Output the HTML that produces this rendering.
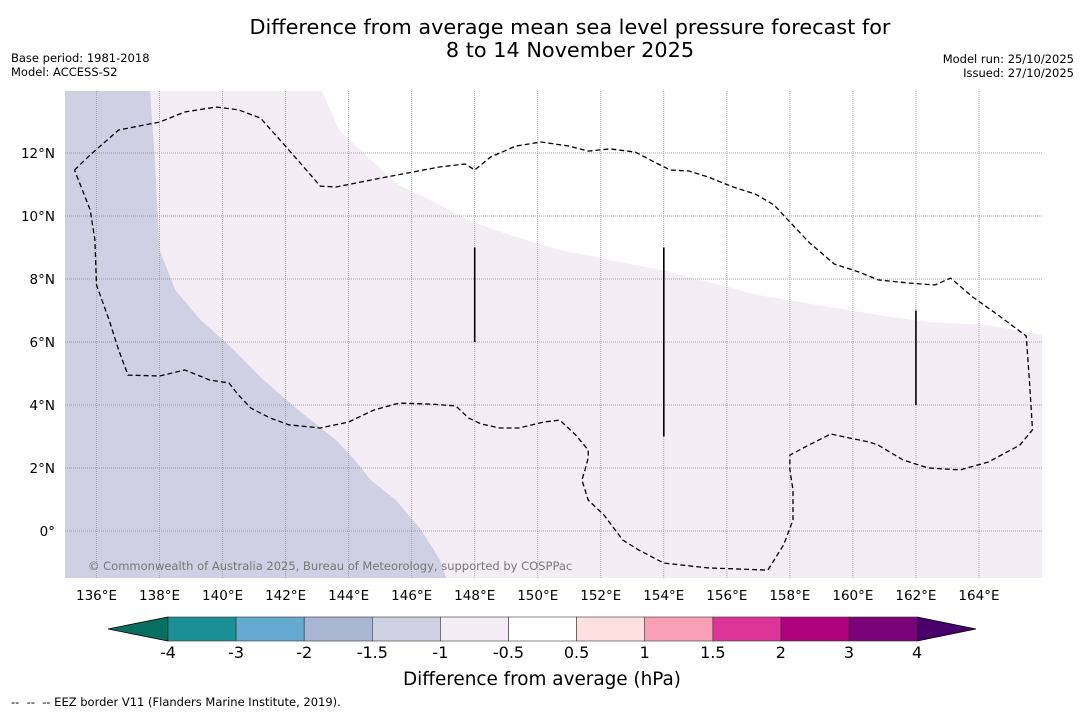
<!DOCTYPE html>
<html><head><meta charset="utf-8">
<style>
body{margin:0;background:#fff;}
svg{display:block;font-family:"DejaVu Sans","Liberation Sans",sans-serif;}
</style></head>
<body>
<svg id="chart" width="1085" height="713" viewBox="0 0 1085 713" xmlns="http://www.w3.org/2000/svg">
<text x="570" y="34" font-size="20.8" text-anchor="middle">Difference from average mean sea level pressure forecast for</text>
<text x="570" y="57" font-size="20.8" text-anchor="middle">8 to 14 November 2025</text>
<text x="11" y="62" font-size="11.5">Base period: 1981-2018</text>
<text x="11" y="76" font-size="11.5">Model: ACCESS-S2</text>
<text x="1074" y="63" font-size="11.5" text-anchor="end">Model run: 25/10/2025</text>
<text x="1074" y="77" font-size="11.5" text-anchor="end">Issued: 27/10/2025</text>
<g id="map"></g>
<g id="cbar"></g>
<text x="542" y="685" font-size="18.4" text-anchor="middle">Difference from average (hPa)</text>
<text x="11" y="706" font-size="11.5" xml:space="preserve">--  --  -- EEZ border V11 (Flanders Marine Institute, 2019).</text>
</svg>
<script>
const lonTicks=[136,138,140,142,144,146,148,150,152,154,156,158,160,162,164];
const latTicks=[0,2,4,6,8,10,12];
const blueLon=[137.7,137.85,138.0,138.5,139.3,140.2,141.3,142.4,143.6,144.2,144.7,145.5,146.3,146.9,147.1];
const blueLat=[13.97,11.78,8.92,7.65,6.7,5.9,4.79,3.84,2.89,2.25,1.62,0.98,0.03,-0.92,-1.5];
const whiteLon=[143.15,143.7,144.7,145.6,146.6,147.8,149.1,150.7,152.3,153.9,155.8,157.0,158.9,160.8,162.4,164.3,166.0];
const whiteLat=[13.97,12.73,11.78,10.98,10.5,9.87,9.4,8.92,8.6,8.29,7.81,7.49,7.17,6.86,6.63,6.54,6.22];
const contLon=[135.3,135.8,136.7,138.0,138.8,139.8,140.5,141.2,142.1,143.1,143.6,145.0,146.9,147.7,148.0,148.5,149.3,150.1,151.0,151.6,152.3,153.1,153.7,154.2,154.8,155.4,156.2,156.9,157.5,158.0,158.6,159.4,160.2,160.8,161.8,162.6,163.1,163.8,164.6,165.5,165.6,165.7,165.3,164.3,163.4,162.4,161.6,160.8,160.5,159.9,159.3,158.6,158.0,158.0,158.1,158.1,157.8,157.3,155.4,154.0,153.2,152.7,152.1,151.6,151.4,151.5,151.6,151.6,151.2,150.7,150.2,149.4,148.8,148.2,147.8,147.4,146.6,145.6,144.8,144.0,143.1,142.1,141.5,140.9,140.5,140.2,139.6,138.8,138.0,137.0,136.7,136.4,136.0,135.95,135.8,135.3];
const contLat=[11.46,11.94,12.73,12.98,13.3,13.46,13.37,13.11,12.1,10.95,10.92,11.2,11.56,11.65,11.46,11.87,12.22,12.35,12.22,12.06,12.13,12.03,11.71,11.46,11.43,11.24,10.92,10.7,10.35,9.81,9.17,8.48,8.22,7.97,7.87,7.81,8.03,7.43,6.86,6.19,4.79,3.21,2.73,2.19,1.94,2.0,2.25,2.73,2.83,2.95,3.08,2.73,2.41,1.94,1.3,0.35,-0.44,-1.24,-1.17,-1.02,-0.6,-0.29,0.51,0.98,1.62,1.94,2.32,2.57,3.05,3.52,3.46,3.27,3.27,3.4,3.59,3.97,4.03,4.06,3.84,3.46,3.27,3.37,3.59,3.9,4.32,4.7,4.79,5.11,4.92,4.95,5.75,6.7,7.81,9.24,10.19,11.46];
const segLon=[148,154,162];
const segLat0=[9,9,7];
const segLat1=[6,3,4];
const cbLevels=[-4,-3,-2,-1.5,-1,-0.5,0.5,1,1.5,2,3,4];
const cbColors=["#1b8f96","#66a9d0","#a9b6d1","#cfd0e4","#f4edf5","#ffffff","#fde0e0","#f99fb5","#dd3497","#ae017e","#7a0177"];

const NS="http://www.w3.org/2000/svg";
const X0=65,X1=1042,Y0=91,Y1=578;
const xs=lon=>X0+(lon-135)*(X1-X0)/31;
const ys=lat=>531-lat*31.5;
function mk(t,a,p){const e=document.createElementNS(NS,t);for(const k in a)e.setAttribute(k,a[k]);p.appendChild(e);return e;}
const map=document.getElementById('map');
const cp=mk('clipPath',{id:'mc'},map);mk('rect',{x:X0,y:Y0,width:X1-X0,height:Y1-Y0},cp);
const g=mk('g',{'clip-path':'url(#mc)'},map);
let bg=mk('rect',{x:X0,y:Y0,width:X1-X0,height:Y1-Y0,fill:'#f4edf5'},g);


let d='M'+X0+','+(Y0-5);
blueLon.forEach((v,i)=>{d+=' L'+xs(v)+','+ys(blueLat[i]);});
d+=' L'+xs(blueLon[blueLon.length-1])+','+(Y1+5)+' L'+X0+','+(Y1+5)+'Z';
let p=mk('path',{d:d,fill:'#cfd0e4'},g);


d='M'+xs(whiteLon[0])+','+(Y0-5);
whiteLon.forEach((v,i)=>{d+=' L'+xs(v)+','+ys(whiteLat[i]);});
d+=' L'+(X1+5)+','+(Y0-5)+'Z';
p=mk('path',{d:d,fill:'#ffffff'},g);


lonTicks.forEach(v=>{
 const l=mk('line',{x1:xs(v),x2:xs(v),y1:Y0,y2:Y1,stroke:'#999','stroke-width':0.8,'stroke-dasharray':'1,1'},g);
 
 
 const t=mk('text',{x:xs(v),y:600,'font-size':13.5,'text-anchor':'middle'},map);
 t.textContent=v+'°E';
 
 
});
latTicks.forEach(v=>{
 const l=mk('line',{x1:X0,x2:X1,y1:ys(v),y2:ys(v),stroke:'#888','stroke-width':0.8,'stroke-dasharray':'1,1'},g);
 
 
 const t=mk('text',{x:55,y:ys(v)+5,'font-size':13.5,'text-anchor':'end'},map);
 t.textContent=v===0?'0°':v+'°N';
 
 
});
d='';contLon.forEach((v,i)=>{d+=(i?' L':'M')+xs(v).toFixed(1)+','+ys(contLat[i]).toFixed(1);});
p=mk('path',{d:d,fill:'none',stroke:'#000','stroke-width':1.3,'stroke-dasharray':'5,3'},g);


segLon.forEach((v,i)=>{
 const l=mk('line',{x1:xs(v),x2:xs(v),y1:ys(segLat0[i]),y2:ys(segLat1[i]),stroke:'#000','stroke-width':1.6},g);
 
 
});
let c=mk('text',{x:88,y:570,'font-size':11.5,fill:'#777'},g);
c.textContent='© Commonwealth of Australia 2025, Bureau of Meteorology, supported by COSPPac';


// colorbar
const cb=document.getElementById('cbar');
const CB0=168,CBW=68.1,CBY=617,CBH=24;
const cx=i=>CB0+i*CBW;
let tri=mk('polygon',{points:`108,${CBY+CBH/2} ${CB0},${CBY} ${CB0},${CBY+CBH}`,fill:'#087063',stroke:'#000','stroke-width':0.8},cb);


const ce=cx(cbColors.length);
tri=mk('polygon',{points:`${ce},${CBY} 976,${CBY+CBH/2} ${ce},${CBY+CBH}`,fill:'#49006a',stroke:'#000','stroke-width':0.8},cb);


cbColors.forEach((col,i)=>{
 const r=mk('rect',{x:cx(i),y:CBY,width:CBW,height:CBH,fill:col,stroke:'#333','stroke-width':0.6},cb);
 
 
});
cbLevels.forEach((v,i)=>{
 const t=mk('text',{x:cx(i),y:658,'font-size':16,'text-anchor':'middle'},cb);
 t.textContent=v;
 
 
});
</script>
</body></html>
